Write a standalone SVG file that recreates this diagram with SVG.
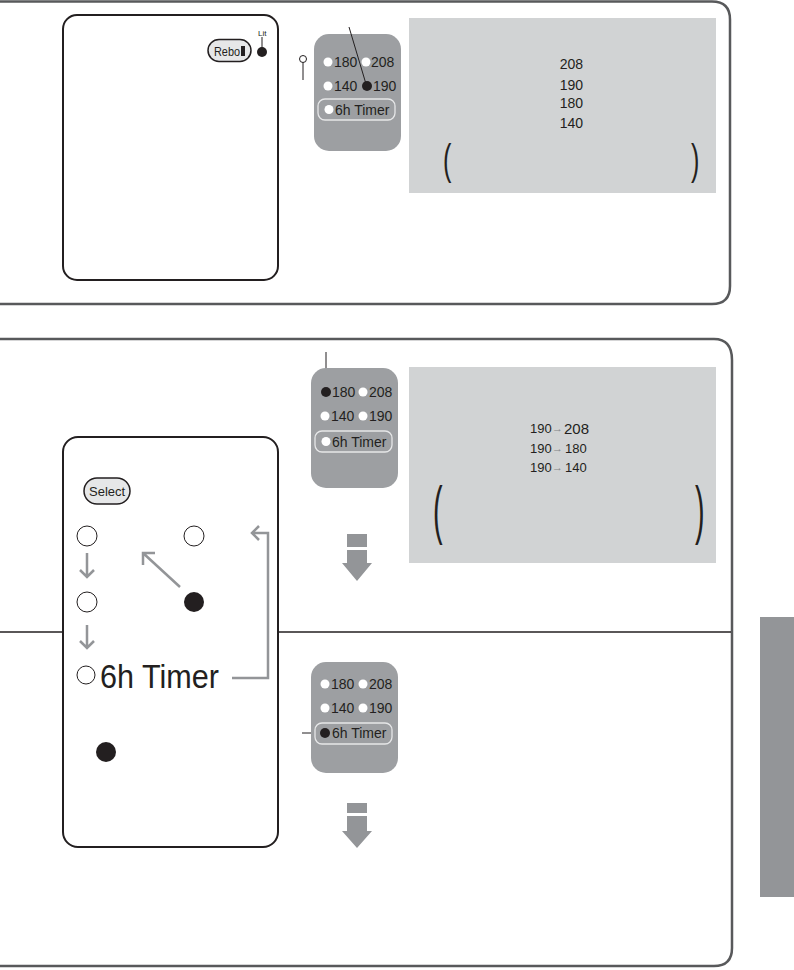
<svg xmlns="http://www.w3.org/2000/svg" width="794" height="970" viewBox="0 0 794 970">
<style>
.frame{fill:none;stroke:#58595b;stroke-width:2.5}
.panel{fill:#fff;stroke:#231f20;stroke-width:2}
.kp{fill:#9d9fa2}
.kt{font-family:"Liberation Sans",Arial,sans-serif;font-size:14px;fill:#231f20}
.wd{fill:#fff}
.bd{fill:#231f20}
.ol{fill:none;stroke:#e6e7e8;stroke-width:1.3}
.gbox{fill:#d1d3d4}
.lcd{font-family:"Liberation Sans",Arial,sans-serif;fill:#231f20}
.par{font-family:"Liberation Sans",Arial,sans-serif;fill:#231f20}
.ga{fill:none;stroke:#939598;stroke-width:2.5;stroke-linejoin:miter}
.thin{stroke:#231f20;stroke-width:1;fill:none}
.btn{fill:#e6e7e8;stroke:#231f20;stroke-width:1.5}
.bt{font-family:"Liberation Sans",Arial,sans-serif;font-size:13px;fill:#231f20}
.garr{fill:#939598}
.sa{font-family:"Liberation Sans",Arial,sans-serif;font-size:11px;fill:#808285}
</style>

<!-- frames -->
<g id="frame1"><path class="frame" d="M0,1.5 H712 Q730,1.5 730,19.5 V286 Q730,304 712,304 H0"/></g>
<g id="frame2"><path class="frame" d="M0,339 H714 Q732,339 732,360 V948 Q732,966 714,966 H0"/>
<line x1="0" y1="632" x2="731" y2="632" stroke="#231f20" stroke-width="1.5"/></g>
<rect id="sidebar" x="760" y="617" width="34" height="280" fill="#939598"/>

<!-- top left panel -->
<g id="panel1">
<rect class="panel" x="63" y="15" width="215" height="265" rx="14"/>
<rect class="btn" x="208" y="39.5" width="43" height="22" rx="11"/>
<text class="bt" x="214" y="55.5" font-size="12" textLength="26" lengthAdjust="spacingAndGlyphs">Rebo</text>
<rect x="241" y="46" width="4" height="10" fill="#231f20"/>
<text x="258" y="36" font-family="Liberation Sans,Arial,sans-serif" font-size="8" fill="#231f20">Lit</text>
<line class="thin" x1="262" y1="37" x2="262" y2="48"/>
<circle class="bd" cx="262" cy="52" r="5"/>
</g>

<!-- keypad 1 -->
<g id="keypad1">
<rect class="kp" x="314" y="34" width="87" height="117" rx="15"/>
<circle class="wd" cx="328" cy="62" r="4.5"/><text class="kt" x="334" y="67">180</text>
<circle class="wd" cx="366" cy="62" r="4.5"/><text class="kt" x="371" y="67">208</text>
<circle class="wd" cx="328" cy="86" r="4.5"/><text class="kt" x="334" y="91">140</text>
<circle class="bd" cx="367" cy="86" r="5"/><text class="kt" x="373" y="91">190</text>
<rect class="ol" x="318" y="99" width="77" height="21" rx="7"/>
<circle class="wd" cx="329" cy="109.5" r="4.5"/><text class="kt" x="335" y="114.5">6h Timer</text>
</g>
<g id="pin1"><circle cx="303" cy="59" r="3.5" fill="#fff" stroke="#231f20" stroke-width="1"/><line class="thin" x1="303" y1="62.5" x2="303" y2="80"/></g>

<!-- top grey box -->
<g id="box1">
<rect class="gbox" x="409" y="18" width="307" height="175"/>
<text class="lcd" font-size="14" x="583" y="69" text-anchor="end">208</text>
<text class="lcd" font-size="14" x="583" y="90" text-anchor="end">190</text>
<text class="lcd" font-size="14" x="583" y="108" text-anchor="end">180</text>
<text class="lcd" font-size="14" x="583" y="128" text-anchor="end">140</text>
<text class="par" font-size="42" transform="translate(443,174) scale(0.6,1)">(</text>
<text class="par" font-size="42" transform="translate(691,174) scale(0.6,1)">)</text>
</g>

<!-- bottom left panel -->
<g id="panel2">
<rect class="panel" x="63" y="437" width="215" height="410" rx="15"/>
<rect class="btn" x="84" y="478" width="46" height="26" rx="13"/>
<text class="bt" x="89" y="496" font-size="14">Select</text>
<circle cx="87" cy="536" r="10" fill="#fff" stroke="#231f20" stroke-width="1"/>
<circle cx="194" cy="536" r="10" fill="#fff" stroke="#231f20" stroke-width="1"/>
<circle cx="87" cy="602" r="10" fill="#fff" stroke="#231f20" stroke-width="1"/>
<circle class="bd" cx="194" cy="602" r="10"/>
<circle cx="86" cy="675" r="9" fill="#fff" stroke="#231f20" stroke-width="1"/>
<text x="100" y="688" font-family="Liberation Sans,Arial,sans-serif" font-size="34" fill="#231f20" textLength="119" lengthAdjust="spacingAndGlyphs">6h Timer</text>
<circle class="bd" cx="106" cy="752" r="10"/>
</g>
<g id="connectors">
<path class="ga" d="M87,553 V577 M80,570 L87,577 L94,570"/>
<path class="ga" d="M87,625 V648 M80,641 L87,648 L94,641"/>
<path class="ga" d="M180,587 L143,553 M143,565 L143,553 L155,553"/>
<path class="ga" d="M232,678 H268 V533 H252 M259,526 L252,533 L259,540"/>
<line class="thin" x1="349" y1="27" x2="366" y2="84"/>
<line class="thin" x1="326" y1="352" x2="326" y2="392"/>
<line class="thin" x1="302" y1="733" x2="324" y2="733"/>
</g>

<!-- keypad 2 -->
<g id="keypad2">
<rect class="kp" x="311" y="368" width="87" height="120" rx="15"/>
<circle class="bd" cx="326" cy="392" r="5"/><text class="kt" x="332" y="397">180</text>
<circle class="wd" cx="363" cy="392" r="4.5"/><text class="kt" x="369" y="397">208</text>
<circle class="wd" cx="325" cy="416" r="4.5"/><text class="kt" x="331" y="421">140</text>
<circle class="wd" cx="363" cy="416" r="4.5"/><text class="kt" x="369" y="421">190</text>
<rect class="ol" x="315" y="431" width="77" height="21" rx="7"/>
<circle class="wd" cx="326" cy="441.5" r="4.5"/><text class="kt" x="332" y="446.5">6h Timer</text>
</g>
<g id="arrow1" class="garr">
<rect x="347" y="534" width="20" height="13"/>
<path d="M347,550 H367 V563 H372 L357,581 L342,563 H347 Z"/>
</g>

<!-- bottom grey box -->
<g id="box2">
<rect class="gbox" x="409" y="367" width="307" height="196"/>
<text class="lcd" font-size="13" x="530" y="433">190</text><text class="sa" x="552" y="432">→</text><text class="lcd" font-size="15" x="564" y="433.5">208</text>
<text class="lcd" font-size="13" x="530" y="453">190</text><text class="sa" x="552" y="452">→</text><text class="lcd" font-size="13" x="565" y="453">180</text>
<text class="lcd" font-size="13" x="530" y="472">190</text><text class="sa" x="552" y="471">→</text><text class="lcd" font-size="13" x="565" y="472">140</text>
<text class="par" font-size="64" transform="translate(433,532) scale(0.45,1)">(</text>
<text class="par" font-size="64" transform="translate(695,532) scale(0.45,1)">)</text>
</g>

<!-- keypad 3 -->
<g id="keypad3">
<rect class="kp" x="311" y="662" width="87" height="111" rx="15"/>
<circle class="wd" cx="325" cy="684" r="4.5"/><text class="kt" x="331" y="689">180</text>
<circle class="wd" cx="363" cy="684" r="4.5"/><text class="kt" x="369" y="689">208</text>
<circle class="wd" cx="325" cy="708" r="4.5"/><text class="kt" x="331" y="713">140</text>
<circle class="wd" cx="363" cy="708" r="4.5"/><text class="kt" x="369" y="713">190</text>
<rect class="ol" x="315" y="723" width="77" height="21" rx="7"/>
<circle class="bd" cx="325" cy="733" r="5"/><text class="kt" x="332" y="738">6h Timer</text>
</g>
<g id="arrow2" class="garr">
<rect x="347" y="803" width="20" height="10"/>
<path d="M347,816 H367 V831 H372 L357,848 L342,831 H347 Z"/>
</g>
</svg>
